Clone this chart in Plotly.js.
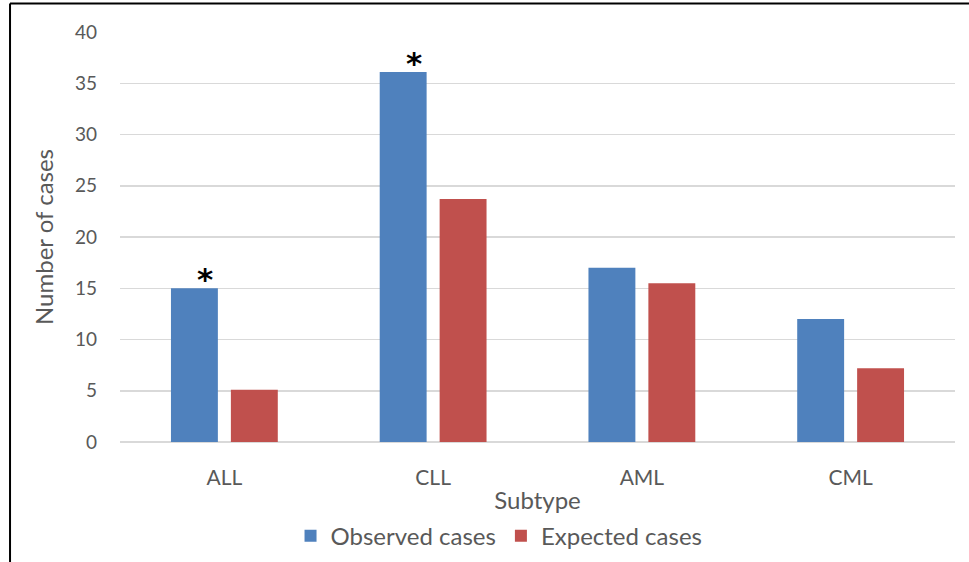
<!DOCTYPE html>
<html>
<head>
<meta charset="utf-8">
<script src="https://cdn.plot.ly/plotly-3.0.1.min.js"></script>
<style>
  html, body { margin: 0; padding: 0; background: #fff; }
  #chart { width: 969px; height: 562px; }
</style>
</head>
<body>
<div id="chart"></div>
<script>
const categories = ["ALL", "CLL", "AML", "CML"];
const observedCases = [15, 36.1, 17, 12];
const expectedCases = [5.1, 23.7, 15.5, 7.2];
const significant = [true, true, false, false];
const yTicks = [0, 5, 10, 15, 20, 25, 30, 35, 40];

const FONT = "Lato, 'Open Sans', sans-serif";
const GREY = "#595959";
const bargap = 0.426;
const slot = (1 - bargap) / 2;

const traces = [
  { type: "bar", name: "Observed cases", x: categories, y: observedCases,
    marker: { color: "#4f81bd" }, hoverinfo: "y" },
  { type: "bar", name: "Expected cases", x: categories, y: expectedCases,
    marker: { color: "#c0504d" }, hoverinfo: "y" }
];

const annotations = [];
significant.forEach((s, i) => {
  if (s) {
    annotations.push({
      xref: "x", yref: "y", x: i - slot / 2, y: observedCases[i],
      text: "<b>*</b>", showarrow: false, yanchor: "bottom", yshift: -11, xshift: 11,
      font: { family: "'DejaVu Sans', sans-serif", size: 31, color: "#000" }
    });
  }
});

const layout = {
  width: 969, height: 562,
  margin: { l: 120, r: 14, t: 32, b: 120 },
  paper_bgcolor: "#fff", plot_bgcolor: "#fff",
  barmode: "group", bargap: bargap, bargroupgap: 0.217,
  font: { family: FONT, color: GREY, size: 19 },
  xaxis: {
    type: "category", showgrid: false, zeroline: false, showline: false,
    ticks: "", ticklabelstandoff: 21, automargin: false,
    tickfont: { size: 21, color: GREY, family: FONT },
    title: { text: "Subtype", font: { size: 24, color: GREY, family: FONT }, standoff: 6 },
    fixedrange: true
  },
  yaxis: {
    range: [0, 40], tickvals: yTicks, ticktext: yTicks.map(String),
    showgrid: true, gridcolor: "#d9d9d9", gridwidth: 1.5,
    zeroline: true, zerolinecolor: "#d9d9d9", zerolinewidth: 1.5,
    showline: false, ticks: "", ticklabelstandoff: 22, automargin: false,
    tickfont: { size: 19, color: GREY, family: FONT },
    title: { text: "Number of cases", font: { size: 24, color: GREY, family: FONT }, standoff: 14 },
    fixedrange: true
  },
  showlegend: true,
  legend: {
    orientation: "h", xref: "container", yref: "container",
    x: 0.515, xanchor: "center", y: 0.046, yanchor: "middle",
    font: { size: 24, color: GREY, family: FONT }, itemwidth: 30, traceorder: "normal"
  },
  annotations: annotations,
  shapes: [
    { type: "line", xref: "paper", yref: "paper", x0: -0.1317, x1: 1.2, y0: 1.0695, y1: 1.0695,
      line: { color: "#000", width: 2 } },
    { type: "line", xref: "paper", yref: "paper", x0: -0.1317, x1: -0.1317, y0: -0.5, y1: 1.0695,
      line: { color: "#000", width: 2 } }
  ]
};

Plotly.newPlot("chart", traces, layout, { displayModeBar: false, staticPlot: true });
</script>
</body>
</html>
